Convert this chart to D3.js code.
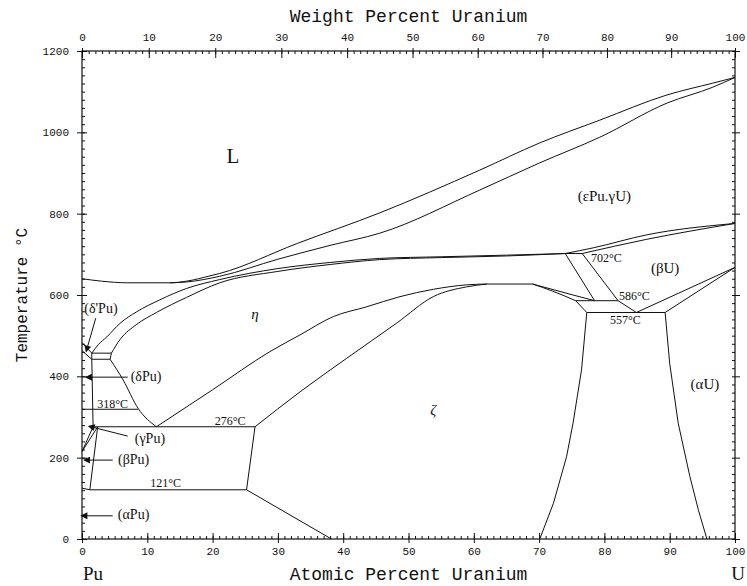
<!DOCTYPE html>
<html lang="en">
  <head>
    <meta charset="UTF-8" />
    <title>Pu-U phase diagram</title>
    <style>
      body { margin: 0; background: #fff; }
      svg { display: block; }
      .tick text { font-family: "Liberation Mono", monospace; font-size: 11px; fill: #111; }
      .tick line { stroke: #111; }
      .phase { fill: none; stroke: #111; stroke-width: 1; }
      .lbl { font-family: "Liberation Serif", serif; fill: #111; }
      .title { font-family: "Liberation Mono", monospace; fill: #111; }
    </style>
  </head>
  <body>
    <script src="https://cdn.jsdelivr.net/npm/d3@7"></script>
    <script>
    var width = 747;
    var height = 586;
    var margin = { top: 51, right: 12, bottom: 47, left: 82 };

    // phase boundaries, [atomic % U, temperature °C]
    var liquidus = [[0,640],[3,634],[7,630],[13.5,630],[16,634],[19.6,647],[21.1,653],[33,727],[45.6,802],[60.9,907],[70.1,974],[79.3,1030],[89.6,1092],[96.6,1121],[100,1135]];
    var solidus = [[13.5,630],[16,632],[21.1,646],[30,688],[38,722],[45.6,752],[60.9,858],[70.1,925],[79.3,988],[89.6,1072],[96.6,1111],[100,1135]];
    var epsEtaOuter = [[1.5,457],[2.5,478],[3.8,497],[5.8,530],[8.4,559],[11.9,588],[16,616],[21.1,638],[30,665],[38,680],[45.6,690],[55,694],[65,698],[74,702]];
    var epsEtaInner = [[4.5,457],[5.8,490],[8.4,528],[11.4,557],[16,594],[21.1,630],[30,658],[38,675],[45.6,687],[55,692],[65,696],[74,702]];
    var etaZetaUpper = [[11.4,276],[20,367],[28.8,461],[33.4,502],[38.5,547],[43.6,571],[48.7,596],[53.8,614],[58.9,625],[62,627]];
    var etaZetaLower = [[26.5,276],[33.4,362],[40.5,444],[48.2,531],[53.8,596],[58.9,620],[62,627]];
    var domeTop = [[62,627],[69,627]];
    var domeRightA = [[69,627],[72,610],[75.6,586]];
    var domeRightB = [[69,627],[75.2,600],[78.5,586]];
    var zetaRight = [[77.3,557],[76.5,416],[75.2,285],[74.2,202],[72.2,88],[70.1,0]];
    var alphaULeft = [[89.3,557],[90,432],[91.3,285],[93.1,153],[94.4,71],[95.7,0]];
    var betaAlphaA = [[84.9,557],[100,668]];
    var betaAlphaB = [[89.3,557],[100,668]];
    var link557 = [[77.3,557],[75.6,586]];
    var link586 = [[82.1,586],[84.9,557]];
    var eps702DownA = [[74,702],[78.5,586]];
    var eps702DownB = [[76.6,702],[82.1,586]];
    var epsBetaA = [[74,702],[78.3,716],[86.5,748],[100,776]];
    var epsBetaB = [[76.6,702],[86.5,737],[100,776]];
    var zetaLow = [[26.5,276],[25.2,121],[38.2,0]];
    var box121Left = [[2.4,276],[1.2,121]];
    var deltaVert = [[1.5,442],[1.7,276]];
    var deltaEta = [[4.3,442],[6.3,391],[8.6,321],[11.4,276]];
    var deltaPrimeBox = [[1.5,457],[4.5,457],[4.3,442],[1.5,442],[1.5,457]];
    var deltaPrimeTop = [[0,483],[1.5,457]];
    var deltaPrimeBot = [[0,463],[1.5,442]];
    var gammaA = [[0,215],[1.7,276]];
    var gammaB = [[0,215],[2.4,276]];

    // isotherms
    var iso702 = [[74,702],[76.6,702]];
    var iso586 = [[75.6,586],[82.1,586]];
    var iso557 = [[77.3,557],[89.3,557]];
    var iso318 = [[0,319],[8.6,319]];
    var iso276 = [[1.7,276],[26.5,276]];
    var iso121 = [[0,125],[1.2,121],[25.2,121]];

    // labels [text, at% U, °C]
    var phaseLabels = [["L",23.1,925],["(εPu.γU)",80,830],["(βU)",89.3,655],["(αU)",95.4,370],["η",26.5,540],["ζ",53.8,305]];
    var tempLabels = [["702°C",80.3,680],["586°C",84.6,588],["557°C",83.2,529],["318°C",4.7,322],["276°C",22.7,281],["121°C",12.8,128]];
    // pointers [text, label x, label T, from x, from T, tip x, tip T]
    var pointers = [
      ["(δ'Pu)",2.9,555,2.1,543,0.8,470],
      ["(δPu)",9.8,389,7.0,398,1.2,398],
      ["(γPu)",10.4,235,7.0,253,1.6,275],
      ["(βPu)",7.9,185,4.7,194,0.9,194],
      ["(αPu)",7.9,48,4.7,57,0.5,57]
    ];

    var xTicks = d3.range(0, 101, 10);
    var xMinor = d3.range(0, 101, 1);
    var yTicks = d3.range(0, 1201, 200);
    var yMinor = d3.range(0, 1201, 20);
    var wtTicks = d3.range(0, 101, 10);
    var wtMinor = d3.range(0, 101, 1);

    var x = d3.scaleLinear().domain([0, 100]).range([margin.left, width - margin.right]);
    var y = d3.scaleLinear().domain([0, 1200]).range([height - margin.bottom, margin.top]);

    // weight % U -> atomic % U
    function atFromWt(w) {
      var u = w / 238, p = (100 - w) / 244;
      return 100 * u / (u + p);
    }
    var xw = d3.scaleLinear().domain(wtMinor).range(wtMinor.map(function(w) { return x(atFromWt(w)); }));

    var svg = d3.select("body").append("svg")
      .attr("width", width)
      .attr("height", height);

    var x0 = margin.left, x1 = width - margin.right;
    var y0 = height - margin.bottom, y1 = margin.top;
    var fmt = d3.format("d");

    // axes
    function addAxis(axis, tx, ty, labels) {
      var g = svg.append("g").attr("transform", "translate(" + tx + "," + ty + ")").call(axis);
      g.select(".domain").remove();
      if (!labels) g.selectAll("text").remove();
      return g;
    }
    addAxis(d3.axisBottom(x).tickValues(xTicks).tickFormat(fmt).tickSize(4).tickPadding(4), 0, y0, true);
    addAxis(d3.axisBottom(x).tickValues(xTicks).tickSize(-6), 0, y0, false);
    addAxis(d3.axisBottom(x).tickValues(xMinor).tickSize(-3), 0, y0, false);

    addAxis(d3.axisTop(xw).tickValues(wtTicks).tickFormat(fmt).tickSize(3).tickPadding(7), 0, y1, true);
    addAxis(d3.axisTop(xw).tickValues(wtTicks).tickSize(-7), 0, y1, false);
    addAxis(d3.axisTop(xw).tickValues(wtMinor).tickSize(-3), 0, y1, false);

    addAxis(d3.axisLeft(y).tickValues(yTicks).tickFormat(fmt).tickSize(5).tickPadding(8), x0, 0, true);
    addAxis(d3.axisLeft(y).tickValues(yTicks).tickSize(-5), x0, 0, false);
    addAxis(d3.axisLeft(y).tickValues(yMinor).tickSize(-3), x0, 0, false);

    addAxis(d3.axisRight(y).tickValues(yTicks).tickSize(5), x1, 0, false);
    addAxis(d3.axisRight(y).tickValues(yMinor).tickSize(-3), x1, 0, false);

    svg.append("rect")
      .attr("x", x0).attr("y", y1)
      .attr("width", x1 - x0).attr("height", y0 - y1)
      .attr("fill", "none").attr("stroke", "#111").attr("stroke-width", 1.2);

    // phase boundaries
    var smooth = d3.line().x(function(d) { return x(d[0]); }).y(function(d) { return y(d[1]); }).curve(d3.curveMonotoneX);
    var straight = d3.line().x(function(d) { return x(d[0]); }).y(function(d) { return y(d[1]); });

    var smoothLines = [liquidus, solidus, epsEtaOuter, epsEtaInner, etaZetaUpper, etaZetaLower,
                       domeRightA, domeRightB, epsBetaA, epsBetaB, deltaEta];
    var straightLines = [zetaRight, alphaULeft, domeTop, betaAlphaA, betaAlphaB, link557, link586,
                         eps702DownA, eps702DownB, zetaLow, box121Left, deltaVert, deltaPrimeBox,
                         deltaPrimeTop, deltaPrimeBot, gammaA, gammaB, iso702, iso586, iso557, iso318, iso121];

    svg.selectAll(".smooth").data(smoothLines).enter().append("path")
      .attr("class", "phase").attr("d", smooth);
    svg.selectAll(".straight").data(straightLines).enter().append("path")
      .attr("class", "phase").attr("d", straight);
    svg.append("path").attr("class", "phase").attr("stroke-width", 2).attr("d", straight(iso276));

    // labels
    svg.selectAll(".plbl").data(phaseLabels).enter().append("text")
      .attr("class", "lbl")
      .attr("x", function(d) { return x(d[1]); })
      .attr("y", function(d) { return y(d[2]); })
      .attr("text-anchor", "middle")
      .style("font-size", function(d) { return d[0] == "L" ? "21px" : "15px"; })
      .style("font-style", function(d) { return (d[0] == "η" || d[0] == "ζ") ? "italic" : "normal"; })
      .text(function(d) { return d[0]; });

    svg.selectAll(".tlbl").data(tempLabels).enter().append("text")
      .attr("class", "lbl")
      .attr("x", function(d) { return x(d[1]); })
      .attr("y", function(d) { return y(d[2]); })
      .attr("text-anchor", "middle")
      .style("font-size", "12px")
      .text(function(d) { return d[0]; });

    svg.append("defs").append("marker")
      .attr("id", "arr")
      .attr("viewBox", "0 0 10 10")
      .attr("refX", 3).attr("refY", 5)
      .attr("markerWidth", 11).attr("markerHeight", 7)
      .attr("markerUnits", "userSpaceOnUse")
      .attr("orient", "auto")
      .append("path").attr("d", "M0,0L10,5L0,10z").attr("fill", "#111");

    svg.selectAll(".ptr").data(pointers).enter().append("line")
      .attr("x1", function(d) { return x(d[3]); })
      .attr("y1", function(d) { return y(d[4]); })
      .attr("x2", function(d) { return x(d[5]); })
      .attr("y2", function(d) { return y(d[6]); })
      .attr("stroke", "#111").attr("stroke-width", 1)
      .attr("marker-end", "url(#arr)");

    svg.selectAll(".ptrlbl").data(pointers).enter().append("text")
      .attr("class", "lbl")
      .attr("x", function(d) { return x(d[1]); })
      .attr("y", function(d) { return y(d[2]); })
      .attr("text-anchor", "middle")
      .style("font-size", "14px")
      .text(function(d) { return d[0]; });

    // titles
    svg.append("text").attr("class", "title")
      .attr("x", (x0 + x1) / 2).attr("y", 22)
      .attr("text-anchor", "middle").style("font-size", "18px")
      .text("Weight Percent Uranium");
    svg.append("text").attr("class", "title")
      .attr("x", (x0 + x1) / 2).attr("y", 580)
      .attr("text-anchor", "middle").style("font-size", "18px")
      .text("Atomic Percent Uranium");
    svg.append("text").attr("class", "title")
      .attr("transform", "translate(27," + y(600) + ") rotate(-90)")
      .attr("text-anchor", "middle").style("font-size", "16px")
      .text("Temperature °C");
    svg.append("text").attr("class", "lbl")
      .attr("x", x0 + 11).attr("y", 580)
      .attr("text-anchor", "middle").style("font-size", "19px")
      .text("Pu");
    svg.append("text").attr("class", "lbl")
      .attr("x", x1 + 3).attr("y", 580)
      .attr("text-anchor", "middle").style("font-size", "19px")
      .text("U");
    </script>
  </body>
</html>
